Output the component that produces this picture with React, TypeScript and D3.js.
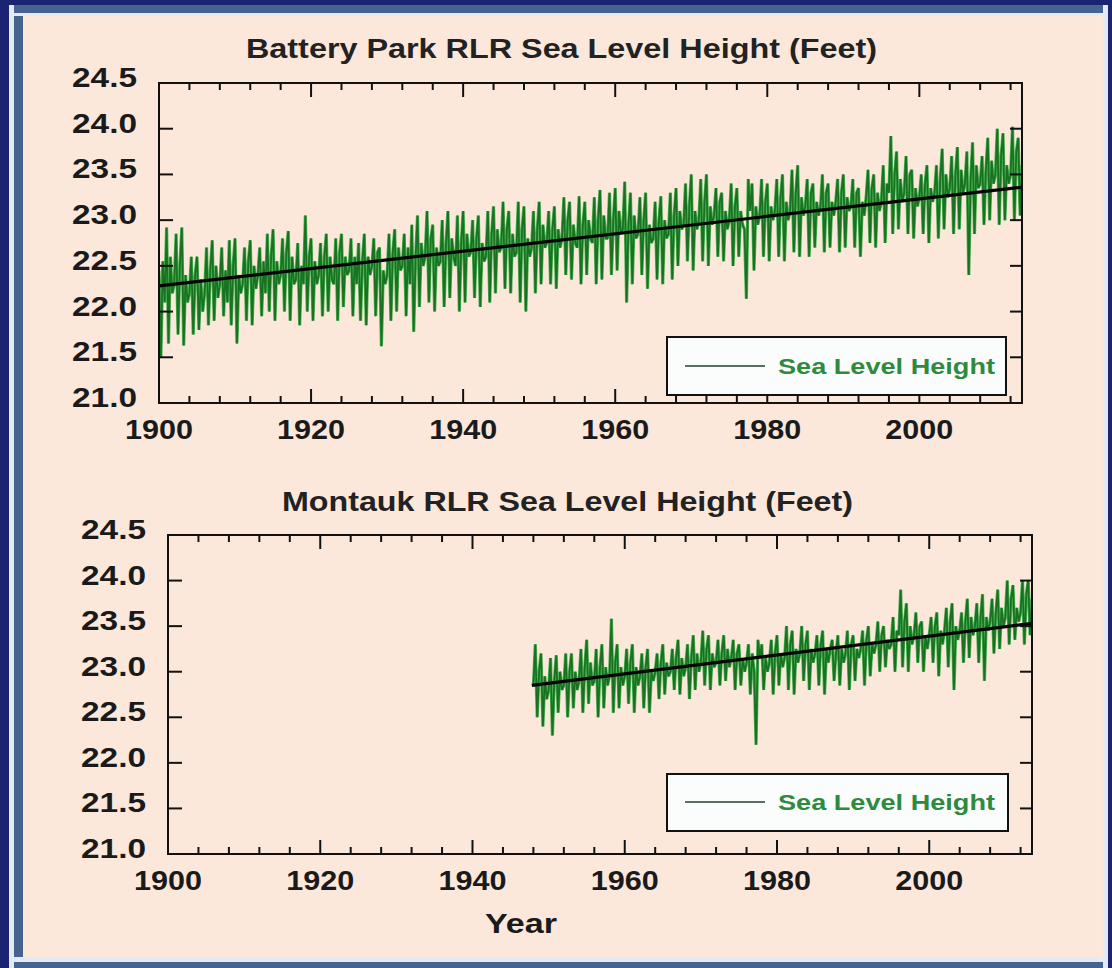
import React, { useEffect, useRef } from 'react';
import * as d3 from 'd3';

// quarterly readings (feet), one row per year
const batteryStart = 1900;
const batteryLevels = [
  22.45, 21.5, 22.55, 22.1, // 1900
  22.92, 21.65, 22.6, 22.2,
  22.3, 22.85, 21.75, 22.5,
  22.92, 21.63, 22.4, 22.1,
  22.2, 22.6, 21.75, 22.4,
  22.6, 21.8, 22.35, 22.0,
  22.2, 22.7, 21.85, 22.45,
  22.78, 21.9, 22.5, 22.15,
  22.3, 22.7, 21.95, 22.45,
  22.1, 22.78, 21.85, 22.5,
  22.8, 21.65, 22.4, 22.2, // 1910
  22.3, 22.7, 21.9, 22.55,
  22.78, 21.85, 22.5, 22.25,
  22.4, 22.7, 21.95, 22.55,
  22.2, 22.85, 22.0, 22.6,
  22.9, 21.9, 22.55, 22.3,
  22.4, 22.8, 22.0, 22.65,
  22.88, 21.9, 22.6, 22.3,
  22.35, 22.75, 21.85, 22.5,
  22.3, 23.05, 22.0, 22.6,
  22.8, 21.9, 22.55, 22.3, // 1920
  22.4, 22.75, 21.95, 22.6,
  22.85, 22.0, 22.6, 22.35,
  22.3, 22.8, 21.9, 22.65,
  22.85, 22.05, 22.6, 22.4,
  22.45, 22.8, 21.95, 22.6,
  22.3, 22.75, 21.9, 22.55,
  22.85, 21.85, 22.6, 22.4,
  22.5, 22.8, 21.95, 22.65,
  22.7, 21.62, 22.45, 22.3,
  22.4, 22.85, 21.9, 22.65, // 1930
  22.9, 22.0, 22.7, 22.45,
  22.5, 22.85, 21.95, 22.7,
  22.3, 22.95, 21.78, 22.6,
  23.05, 22.05, 22.75, 22.5,
  22.6, 23.1, 22.1, 22.8,
  22.95, 22.0, 22.7, 22.5,
  22.55, 23.0, 22.05, 22.75,
  23.1, 22.15, 22.8, 22.6,
  22.5, 23.05, 22.0, 22.75,
  23.1, 22.1, 22.85, 22.6, // 1940
  22.65, 23.0, 22.15, 22.8,
  23.05, 22.05, 22.75, 22.55,
  22.6, 23.1, 22.1, 22.85,
  23.15, 22.2, 22.9, 22.65,
  22.7, 23.2, 22.25, 22.9,
  23.1, 22.2, 22.85, 22.6,
  22.65, 23.2, 22.1, 22.9,
  23.15, 22.0, 22.8, 22.6,
  22.7, 23.1, 22.2, 22.9,
  23.2, 22.3, 22.95, 22.7, // 1950
  22.75, 23.1, 22.3, 22.9,
  23.15, 22.25, 22.9, 22.7,
  22.8, 23.25, 22.4, 23.0,
  23.2, 22.35, 22.95, 22.75,
  22.7, 23.26, 22.3, 22.95,
  23.2, 22.4, 23.0, 22.8,
  22.75, 23.25, 22.3, 23.0,
  23.33, 22.35, 23.05, 22.8,
  22.8, 23.3, 22.4, 23.0,
  23.35, 22.45, 23.1, 22.85, // 1960
  22.9, 23.42, 22.1, 22.95,
  23.3, 22.3, 23.05, 22.8,
  22.85, 23.25, 22.4, 23.0,
  23.3, 22.25, 22.95, 22.75,
  22.8, 23.2, 22.35, 23.0,
  23.26, 22.3, 23.0, 22.8,
  22.85, 23.3, 22.35, 23.05,
  23.35, 22.5, 23.1, 22.9,
  22.95, 23.4, 22.55, 23.15,
  23.5, 22.45, 23.1, 22.9, // 1970
  23.0, 23.45, 22.55, 23.2,
  23.5, 22.5, 23.15, 22.95,
  23.05, 23.35, 22.6, 23.2,
  23.3, 22.55, 23.1, 22.9,
  23.0, 23.4, 22.5, 23.15,
  23.35, 22.6, 23.1, 22.95,
  22.9, 22.14, 23.45, 23.1,
  23.4, 22.45, 23.15, 22.95,
  23.05, 23.45, 22.6, 23.2,
  23.4, 22.55, 23.15, 23.0, // 1980
  23.1, 23.45, 22.6, 23.25,
  23.5, 22.55, 23.2, 23.0,
  23.1, 23.55, 22.65, 23.3,
  23.6, 22.6, 23.25, 23.05,
  23.15, 23.45, 22.6, 23.3,
  23.4, 22.7, 23.2, 23.05,
  23.15, 23.5, 22.65, 23.3,
  23.4, 22.7, 23.2, 23.05,
  23.2, 23.45, 22.65, 23.3,
  23.5, 22.7, 23.25, 23.1, // 1990
  23.15, 23.45, 22.7, 23.3,
  23.35, 22.6, 23.2, 23.05,
  23.25, 23.55, 22.75, 23.35,
  23.5, 22.7, 23.3, 23.1,
  23.2, 23.6, 22.75, 23.4,
  23.3, 23.92, 22.85, 23.5,
  23.75, 22.9, 23.45, 23.2,
  23.3, 23.7, 22.85, 23.5,
  23.55, 22.8, 23.35, 23.15,
  23.25, 23.5, 22.85, 23.4, // 2000
  23.6, 22.75, 23.35, 23.2,
  23.3, 23.6, 22.8, 23.45,
  23.78, 22.9, 23.5, 23.25,
  23.35, 23.7, 22.85, 23.5,
  23.8, 22.9, 23.55, 23.3,
  23.4, 23.75, 22.4, 23.45,
  23.85, 22.85, 23.6, 23.35,
  23.4, 23.7, 22.95, 23.55,
  23.9, 23.0, 23.65, 23.4,
  23.5, 24.0, 22.95, 23.7, // 2010
  23.95, 23.0, 23.6, 23.4,
  23.5, 24.02, 23.0, 23.75,
  23.9, 23.05, 23.6, 23.3,
];

const montaukStart = 1948;
const montaukLevels = [
  22.85, 23.3, 22.5, 23.0, // 1948
  23.2, 22.4, 22.95, 22.7,
  22.8, 23.15, 22.3, 22.9, // 1950
  23.18, 22.55, 23.0, 22.8,
  22.85, 23.2, 22.5, 23.0,
  23.2, 22.6, 23.0, 22.8,
  22.9, 23.25, 22.55, 23.05,
  23.35, 22.65, 23.1, 22.85,
  22.9, 23.25, 22.5, 23.05,
  23.3, 22.6, 23.05, 22.85,
  22.95, 23.58, 22.55, 23.1,
  23.3, 22.6, 23.05, 22.85,
  22.95, 23.25, 22.65, 23.1, // 1960
  23.3, 22.55, 23.05, 22.85,
  22.95, 23.2, 22.6, 23.05,
  23.25, 22.55, 23.0, 22.9,
  23.0, 23.2, 22.7, 23.1,
  23.3, 22.75, 23.1, 22.95,
  23.0, 23.25, 22.8, 23.15,
  23.35, 22.75, 23.15, 22.95,
  23.05, 23.3, 22.7, 23.15,
  23.4, 22.8, 23.2, 23.0,
  23.1, 23.45, 22.85, 23.25, // 1970
  23.4, 22.8, 23.2, 23.05,
  23.1, 23.35, 22.85, 23.2,
  23.4, 22.9, 23.25, 23.05,
  23.15, 23.35, 22.8, 23.2,
  23.3, 22.85, 23.15, 23.0,
  23.1, 23.3, 22.75, 23.2,
  23.0, 22.2, 23.35, 23.15,
  23.3, 22.8, 23.15, 23.0,
  23.1, 23.35, 22.75, 23.2,
  23.4, 22.85, 23.2, 23.05, // 1980
  23.15, 23.5, 22.8, 23.3,
  23.45, 22.75, 23.25, 23.1,
  23.2, 23.5, 22.9, 23.3,
  23.45, 22.8, 23.25, 23.1,
  23.2, 23.4, 22.85, 23.3,
  23.45, 22.75, 23.25, 23.1,
  23.25, 23.35, 22.9, 23.2,
  23.4, 22.85, 23.25, 23.1,
  23.2, 23.45, 22.8, 23.3,
  23.4, 22.9, 23.25, 23.15, // 1990
  23.25, 23.45, 22.85, 23.35,
  23.5, 22.95, 23.3, 23.2,
  23.3, 23.55, 23.0, 23.4,
  23.5, 23.05, 23.35, 23.25,
  23.3, 23.6, 23.0, 23.45,
  23.4, 23.9, 23.05, 23.55,
  23.75, 23.0, 23.5, 23.3,
  23.4, 23.65, 23.1, 23.5,
  23.55, 23.0, 23.4, 23.25,
  23.4, 23.6, 23.1, 23.5, // 2000
  23.65, 22.95, 23.45, 23.3,
  23.45, 23.7, 23.05, 23.55,
  23.75, 22.8, 23.5, 23.35,
  23.45, 23.65, 23.1, 23.55,
  23.8, 23.15, 23.6, 23.4,
  23.5, 23.75, 23.1, 23.6,
  23.85, 22.9, 23.6, 23.45,
  23.55, 23.8, 23.2, 23.65,
  23.9, 23.25, 23.7, 23.5,
  23.6, 24.0, 23.3, 23.8, // 2010
  23.95, 23.35, 23.7, 23.55,
  23.65, 24.0, 23.3, 23.85,
  24.0, 23.4, 23.8, 23.6,
];

// fitted trend end points
const batteryTrendYears = [1900, 2013.5];
const batteryTrendValues = [22.28, 23.36];
const montaukTrendYears = [1947.8, 2013.5];
const montaukTrendValues = [22.85, 23.53];

const yTicks = [21.0, 21.5, 22.0, 22.5, 23.0, 23.5, 24.0, 24.5];
const xMajorTicks = [1900, 1920, 1940, 1960, 1980, 2000];
const xMinorTicks = [1904, 1908, 1912, 1916, 1924, 1928, 1932, 1936, 1944, 1948, 1952, 1956,
  1964, 1968, 1972, 1976, 1984, 1988, 1992, 1996, 2004, 2008, 2012];

const FONT = '"Liberation Sans", Arial, sans-serif';

const panels = [
  {
    id: 'battery',
    title: 'Battery Park RLR Sea Level Height (Feet)',
    titleX: 246, titleW: 631, titleY: 58,
    start: batteryStart, levels: batteryLevels,
    trendYears: batteryTrendYears, trendValues: batteryTrendValues,
    left: 159, right: 1022, top: 83, bottom: 403,
    legend: { x0: 667, x1: 1006, y0: 337, y1: 395 },
  },
  {
    id: 'montauk',
    title: 'Montauk RLR Sea Level Height (Feet)',
    titleX: 282, titleW: 571, titleY: 511,
    start: montaukStart, levels: montaukLevels,
    trendYears: montaukTrendYears, trendValues: montaukTrendValues,
    left: 168, right: 1032, top: 535, bottom: 854,
    legend: { x0: 667, x1: 1008, y0: 774, y1: 831 },
  },
];

const App = () => {
  const ref = useRef<SVGSVGElement>(null);

  useEffect(() => {
    const svg = d3.select(ref.current);
    svg.selectAll('*').remove();

    // window frame
    svg.append('rect').attr('width', 1112).attr('height', 968).attr('fill', '#1b2373');
    svg.append('rect').attr('x', 9).attr('y', 5).attr('width', 1099).attr('height', 963).attr('fill', '#46638e');
    svg.append('rect').attr('x', 9).attr('y', 5).attr('width', 5).attr('height', 963).attr('fill', '#e3eaf4');
    svg.append('rect').attr('x', 1103).attr('y', 5).attr('width', 5).attr('height', 963).attr('fill', '#e3eaf4');
    svg.append('rect').attr('x', 14).attr('y', 13).attr('width', 1089).attr('height', 3).attr('fill', '#e3eaf4');
    svg.append('rect').attr('x', 14).attr('y', 957).attr('width', 1089).attr('height', 5).attr('fill', '#e3eaf4');
    svg.append('rect').attr('x', 23).attr('y', 16).attr('width', 1080).attr('height', 941).attr('fill', '#fce8db');

    panels.forEach(p => {
      const x = d3.scaleLinear().domain([1900, 2013.5]).range([p.left, p.right]);
      const y = d3.scaleLinear().domain([21, 24.5]).range([p.bottom, p.top]);
      const g = svg.append('g');

      g.append('text')
        .attr('x', p.titleX).attr('y', p.titleY)
        .attr('textLength', p.titleW).attr('lengthAdjust', 'spacingAndGlyphs')
        .attr('font-family', FONT).attr('font-weight', 'bold').attr('font-size', 27)
        .attr('fill', '#222').text(p.title);

      g.append('clipPath').attr('id', `clip-${p.id}`)
        .append('rect').attr('x', p.left).attr('y', p.top)
        .attr('width', p.right - p.left).attr('height', p.bottom - p.top);

      const pts = p.levels.map((v, i) => ({ year: p.start + i * 0.25, value: v }));
      const line = d3.line<{ year: number; value: number }>()
        .x(d => x(d.year)).y(d => y(d.value));

      const data = g.append('g').attr('clip-path', `url(#clip-${p.id})`);
      data.append('path').datum(pts).attr('d', line)
        .attr('fill', 'none').attr('stroke', '#4fb556').attr('stroke-width', 3.2)
        .attr('stroke-linejoin', 'bevel');
      data.append('path').datum(pts).attr('d', line)
        .attr('fill', 'none').attr('stroke', '#197222').attr('stroke-width', 1.8)
        .attr('stroke-linejoin', 'bevel');

      const trend = p.trendYears.map((yr, i) => ({ year: yr, value: p.trendValues[i] }));
      data.append('path').datum(trend).attr('d', line)
        .attr('fill', 'none').attr('stroke', '#050505').attr('stroke-width', 3.2);

      // frame
      g.append('rect').attr('x', p.left).attr('y', p.top)
        .attr('width', p.right - p.left).attr('height', p.bottom - p.top)
        .attr('fill', 'none').attr('stroke', '#111').attr('stroke-width', 2);

      // y ticks, both sides pointing in
      yTicks.slice(1, -1).forEach(t => {
        g.append('line').attr('x1', p.left).attr('x2', p.left + 14)
          .attr('y1', y(t)).attr('y2', y(t)).attr('stroke', '#111').attr('stroke-width', 2);
        g.append('line').attr('x1', p.right - 12).attr('x2', p.right)
          .attr('y1', y(t)).attr('y2', y(t)).attr('stroke', '#111').attr('stroke-width', 2);
      });
      yTicks.forEach(t => {
        g.append('text')
          .attr('x', p.left - 87).attr('y', y(t) + 4)
          .attr('textLength', 65).attr('lengthAdjust', 'spacingAndGlyphs')
          .attr('font-family', FONT).attr('font-weight', 'bold').attr('font-size', 28)
          .attr('fill', '#1a1a1a').text(d3.format('.1f')(t));
      });

      // x ticks top and bottom
      const tick = (v: number, len: number) => {
        g.append('line').attr('x1', x(v)).attr('x2', x(v))
          .attr('y1', p.top).attr('y2', p.top + len).attr('stroke', '#111').attr('stroke-width', 2);
        g.append('line').attr('x1', x(v)).attr('x2', x(v))
          .attr('y1', p.bottom).attr('y2', p.bottom - len).attr('stroke', '#111').attr('stroke-width', 2);
      };
      xMinorTicks.forEach(v => tick(v, 7));
      xMajorTicks.forEach(v => tick(v, 14));
      xMajorTicks.forEach(v => {
        g.append('text')
          .attr('x', x(v) - 34).attr('y', p.bottom + 36)
          .attr('textLength', 68).attr('lengthAdjust', 'spacingAndGlyphs')
          .attr('font-family', FONT).attr('font-weight', 'bold').attr('font-size', 28)
          .attr('fill', '#1a1a1a').text(String(v));
      });

      // legend
      const L = p.legend;
      g.append('rect').attr('x', L.x0).attr('y', L.y0)
        .attr('width', L.x1 - L.x0).attr('height', L.y1 - L.y0)
        .attr('fill', '#fbfdfd').attr('stroke', '#111').attr('stroke-width', 2);
      const cy = L.y1 - 29;
      g.append('line').attr('x1', L.x0 + 18).attr('x2', L.x0 + 98)
        .attr('y1', cy).attr('y2', cy).attr('stroke', '#22402a').attr('stroke-width', 1.6);
      g.append('text')
        .attr('x', L.x0 + 111).attr('y', cy + 8)
        .attr('textLength', 217).attr('lengthAdjust', 'spacingAndGlyphs')
        .attr('font-family', FONT).attr('font-weight', 'bold').attr('font-size', 22)
        .attr('fill', '#2f8a3f').text('Sea Level Height');
    });

    svg.append('text')
      .attr('x', 485).attr('y', 933)
      .attr('textLength', 72).attr('lengthAdjust', 'spacingAndGlyphs')
      .attr('font-family', FONT).attr('font-weight', 'bold').attr('font-size', 28)
      .attr('fill', '#1a1a1a').text('Year');
  }, []);

  return (
    <svg ref={ref} width={1112} height={968}
      style={{ position: 'absolute', left: 0, top: 0, display: 'block' }} />
  );
};

export default App;
